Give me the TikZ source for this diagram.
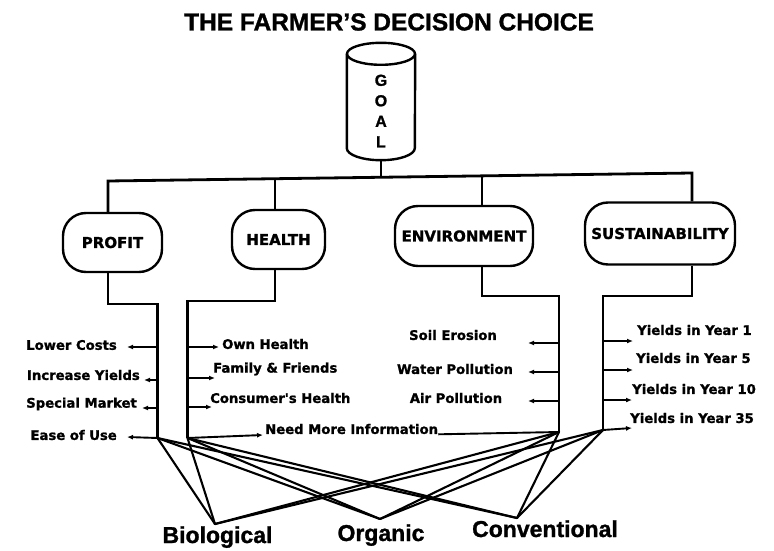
\documentclass[tikz,border=0pt]{standalone}
\usepackage{fontspec}
\setmainfont{Liberation Sans}[BoldFeatures={FakeBold=1.2}]
\newfontfamily\wideface{DejaVu Sans}[BoldFeatures={FakeBold=1.2}]
\usetikzlibrary{arrows.meta}
\begin{document}
\begin{tikzpicture}[x=1pt, y=-1pt,
  link/.style={line width=2.4pt, line join=miter},
  cross/.style={line width=2.1pt, line cap=round},
  pointer/.style={line width=1.9pt, -{Latex[length=6pt, width=5pt]}},
  capsule/.style={draw, line width=2.4pt, rounded corners=23pt, inner sep=0pt,
     font=\wideface\bfseries\fontsize{15}{18}\selectfont},
  item/.style={inner sep=0pt, font=\wideface\bfseries\fontsize{13.2}{16}\selectfont},
  choice/.style={inner sep=0pt, anchor=base, font=\bfseries\fontsize{23}{26}\selectfont}]
\useasboundingbox (0,0) rectangle (774,551);

% heading
\node[inner sep=0pt, font=\bfseries\fontsize{24.5}{28}\selectfont] (title) at (389,22)
  {THE FARMER'S DECISION CHOICE};

% goal drum
\node[minimum width=68pt, minimum height=117pt, inner sep=0pt] (goal) at (381,101.5) {};
\node[align=center, inner sep=0pt, font=\bfseries\fontsize{16}{20.5}\selectfont] (goaltext)
  at (381,111) {G\\O\\A\\L};
\draw[link] ([yshift=-11pt]goal.north) ellipse [x radius=34pt, y radius=11pt];
\draw[link] ([yshift=-11pt]goal.north west) -- ([yshift=12pt]goal.south west)
  arc[start angle=180, end angle=360, x radius=34pt, y radius=12pt]
  -- ([yshift=-11pt]goal.north east);

% criteria
\node[capsule, minimum width=99pt,  minimum height=59pt] (profit) at (112.5,242.5) {PROFIT};
\node[capsule, minimum width=93pt,  minimum height=59pt] (health) at (278.5,239.5) {HEALTH};
\node[capsule, minimum width=138pt, minimum height=60pt] (env)    at (464,236)     {ENVIRONMENT};
\node[capsule, minimum width=150pt, minimum height=62pt] (sust)   at (660,233.5)   {SUSTAINABILITY};

% distribution bar
\coordinate (jP) at (108,181);
\coordinate (jH) at (275,178.7);
\coordinate (jG) at (381,177.3);
\coordinate (jE) at (482,175.9);
\coordinate (jS) at (692,173);
\draw[link, line width=2.8pt] (profit.north -| jP) -- (jP) -- (jS) -- (sust.north -| jS);
\draw[link] (health.north -| jH) -- (jH);
\draw[link] (env.north -| jE) -- (jE);
\draw[link] (goal.south) -- (jG);

% trunks below the criteria
\coordinate (tP) at (157.5,438);
\coordinate (tH) at (187.5,438);
\coordinate (tE) at (559,432);
\coordinate (tS) at (603,430);
\draw[link] (profit.south -| jP) -- ++(0,31) -| (tP);
\draw[link] (health.south -| jH) -- ++(0,31) -| (tH);
\draw[link] (env.south -| jE) -- ++(0,29) -| (tE);
\draw[link] (sust.south -| jS) -- ++(0,30.5) -| (tS);

% profit factors
\node[item, anchor=east] (lower) at (117,345) {Lower Costs};
\node[item, anchor=east] (incr)  at (140,375) {Increase Yields};
\node[item, anchor=east] (spec)  at (137,404) {Special Market};
\node[item, anchor=east] (ease)  at (117,435) {Ease of Use};
\coordinate (aLower) at (127,347);
\coordinate (aIncr)  at (144,380);
\coordinate (aSpec)  at (142,408);
\coordinate (aEase)  at (127,437);
\draw[pointer] (tP |- aLower) -- (aLower);
\draw[pointer] (tP |- aIncr)  -- (aIncr);
\draw[pointer] (tP |- aSpec)  -- (aSpec);
\draw[pointer] (tP) -- (aEase);

% health factors
\node[item, anchor=west] (own)      at (222,344) {Own Health};
\node[item, anchor=west] (family)   at (213,369) {Family \& Friends};
\node[item, anchor=west] (consumer) at (210,398) {Consumer's Health};
\node[item, anchor=west] (need)     at (265,429) {Need More Information};
\coordinate (aOwn)      at (219,347);
\coordinate (aFamily)   at (215,378);
\coordinate (aConsumer) at (212,407);
\coordinate (aNeed)     at (263,435);
\draw[pointer] (tH |- aOwn)      -- (aOwn);
\draw[pointer] (tH |- aFamily)   -- (aFamily);
\draw[pointer] (tH |- aConsumer) -- (aConsumer);
\draw[pointer] (tH) -- (aNeed);
\draw[line width=1.9pt] (need.south east) -- (tE);

% environment factors
\node[item] (soil)  at (453,335) {Soil Erosion};
\node[item] (water) at (455,369) {Water Pollution};
\node[item] (air)   at (456,398) {Air Pollution};
\coordinate (aSoil)  at (528,343);
\coordinate (aWater) at (528,372);
\coordinate (aAir)   at (528,401);
\draw[pointer] (tE |- aSoil)  -- (aSoil);
\draw[pointer] (tE |- aWater) -- (aWater);
\draw[pointer] (tE |- aAir)   -- (aAir);

% sustainability factors
\node[item, anchor=west] (y1)  at (637,330) {Yields in Year 1};
\node[item, anchor=west] (y5)  at (636,358) {Yields in Year 5};
\node[item, anchor=west] (y10) at (632,389) {Yields in Year 10};
\node[item, anchor=west] (y35) at (630,418) {Yields in Year 35};
\coordinate (aY1)  at (633,341);
\coordinate (aY5)  at (633,370);
\coordinate (aY10) at (632,400);
\coordinate (aY35) at (632,428);
\draw[pointer] (tS |- aY1)  -- (aY1);
\draw[pointer] (tS |- aY5)  -- (aY5);
\draw[pointer] (tS |- aY10) -- (aY10);
\draw[pointer] (tS) -- (aY35);

% farming systems
\node[choice] (bio)  at (217.5,543) {Biological};
\node[choice] (org)  at (381,541)   {Organic};
\node[choice] (conv) at (545,537)   {Conventional};
\coordinate (bioTop)  at (215,524);
\coordinate (orgTop)  at (380,519);
\coordinate (convTop) at (517,518);
\foreach \s in {tP,tH,tE,tS}
  \foreach \t in {bioTop,orgTop,convTop}
    \draw[cross] (\s) -- (\t);
\end{tikzpicture}
\end{document}
